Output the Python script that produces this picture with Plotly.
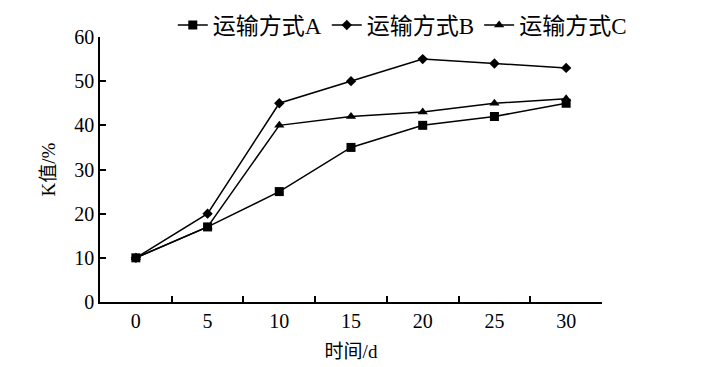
import plotly.graph_objects as go

days = ["0", "5", "10", "15", "20", "25", "30"]
series_a = [10, 17, 25, 35, 40, 42, 45]
series_b = [10, 20, 45, 50, 55, 54, 53]
series_c = [10, 17, 40, 42, 43, 45, 46]
names = ["运输方式A", "运输方式B", "运输方式C"]
y_ticks = [0, 10, 20, 30, 40, 50, 60]

FONT = "Liberation Serif, Noto Sans CJK SC, serif"

fig = go.Figure()
for vals, name, sym, size in [
    (series_a, names[0], "square", 9),
    (series_b, names[1], "diamond", 8),
    (series_c, names[2], "triangle-up", 9),
]:
    fig.add_trace(go.Scatter(
        x=days, y=vals, name=name, mode="lines+markers",
        line=dict(color="black", width=1.5),
        marker=dict(symbol=sym, size=size, color="black"),
    ))

fig.update_layout(
    width=719, height=367,
    margin=dict(l=100, r=117, t=37, b=65, autoexpand=False),
    paper_bgcolor="white", plot_bgcolor="white",
    font=dict(family=FONT, size=19, color="black"),
    showlegend=True,
    legend=dict(orientation="h", x=0.145, y=1.045, xanchor="left", yanchor="middle",
                font=dict(size=23), itemwidth=30, tracegroupgap=0,
                bgcolor="rgba(0,0,0,0)"),
    xaxis=dict(type="category", range=[-0.5, 6.5], showline=True, linecolor="black",
               linewidth=1.5, ticks="inside", tickson="boundaries", ticklen=6,
               tickcolor="black", tickwidth=1.5, showgrid=False, zeroline=False,
               title=dict(text="时间/d", font=dict(size=19), standoff=14),
               tickfont=dict(size=20)),
    yaxis=dict(range=[0, 60], tickvals=y_ticks, showline=True, linecolor="black",
               linewidth=1.5, ticks="inside", ticklen=6, tickcolor="black",
               tickwidth=1.5, showgrid=False, zeroline=False,
               title=dict(text="K值/%", font=dict(size=19), standoff=14),
               tickfont=dict(size=20)),
)

fig.write_html("out.html", config={"displayModeBar": False},
               post_script="document.body.style.margin='0';")
